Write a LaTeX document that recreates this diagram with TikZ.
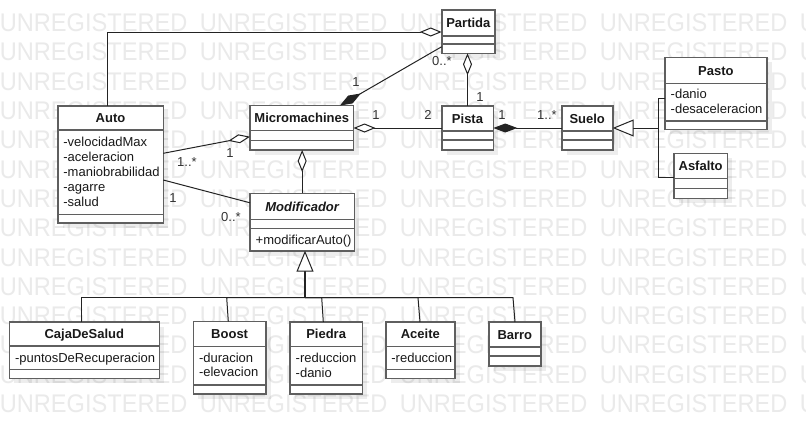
\documentclass[tikz,border=0pt]{standalone}
\usepackage{fontspec}
\setmainfont{Liberation Sans}
\usepackage{graphicx}
\usetikzlibrary{arrows.meta,calc,shadows}
\definecolor{boxc}{RGB}{95,95,95}
\definecolor{linec}{RGB}{35,35,35}
\definecolor{wmc}{RGB}{234,234,234}
\definecolor{txtc}{RGB}{25,25,25}
\tikzset{
 cbox/.style={draw=boxc, line width=1.6pt, fill=white, rectangle, inner sep=0pt, outer sep=0pt, anchor=north west,
   drop shadow={shadow xshift=5pt, shadow yshift=-5pt, fill=black, opacity=0.07}},
 cline/.style={draw=boxc, line width=1.6pt},
 ctitle/.style={anchor=base, inner sep=0pt, font=\fontsize{13}{15}\selectfont\bfseries, text=txtc},
 cattr/.style={anchor=base west, inner sep=0pt, font=\fontsize{13}{15}\selectfont, text=txtc},
 mult/.style={inner sep=0pt, font=\fontsize{13}{15}\selectfont, text=black!80},
 conn/.style={draw=linec, line width=1pt},
 aggr/.style={conn, -{Diamond[fill=white, length=22pt, width=9pt]}},
 comp/.style={conn, -{Diamond[fill=linec, length=24pt, width=9pt]}},
 genz/.style={conn, -{Triangle[fill=white, length=21pt, width=17pt]}},
 wm/.style={anchor=base west, inner sep=0pt, text=wmc, font=\fontsize{25.5}{25.5}\selectfont},
}
% name, x, y, w, h, title, title-line offset, second-line offset
\newcommand{\ucls}[8]{%
  \node[cbox, minimum width=#4pt, minimum height=#5pt] (#1) at (#2,#3) {};
  \draw[cline] ($(#1.north west)+(0,#7)$) -- ($(#1.north east)+(0,#7)$);
  \draw[cline] ($(#1.north west)+(0,#8)$) -- ($(#1.north east)+(0,#8)$);
  \node[ctitle] (#1-t) at ($(#1.north)+(0,#7/2+4.7)$) {#6};
}
% name, box, baseline offset, text
\newcommand{\uattr}[4]{%
  \node[cattr] (#1) at ($(#2.north west)+(5.5,#3)$) {#4};
}
\begin{document}
\begin{tikzpicture}[x=1pt,y=-1pt]
\useasboundingbox (0,0) rectangle (806,434);
\fill[white] (0,0) rectangle (806,434);
% watermark
\begin{scope}
\clip (0,0) rectangle (806,434);
\foreach \r in {0,...,13}{
  \foreach \c in {0,...,4}{
    \node[wm] (wm-\r-\c) at ({200*\c-0.3},{31.6+29.3*\r}) {\scalebox{0.925}[1]{UNREGISTERED}};
  }
}
\end{scope}

% classes
\ucls{partida}{441.7}{10}{53.3}{43.3}{Partida}{26}{34}
\ucls{pista}{441.7}{106}{51.6}{44}{Pista}{25}{34}
\ucls{suelo}{561.7}{106}{51}{44}{Suelo}{25}{34}
\ucls{pasto}{665}{57.3}{101.7}{72}{Pasto}{26}{63.4}
\ucls{asfalto}{674}{153.3}{53.3}{45}{Asfalto}{25}{35}
\ucls{micro}{250}{105.5}{103.5}{44.5}{Micromachines}{25}{35}
\ucls{auto}{57.7}{106}{105.6}{116.7}{Auto}{24}{108.3}
\ucls{modif}{250}{193.3}{104.3}{57.4}{\itshape Modificador}{26}{35}
\ucls{caja}{9.3}{321.7}{150}{56.6}{CajaDeSalud}{24.3}{47.6}
\ucls{boost}{193.3}{321.5}{72.7}{72.5}{Boost}{25}{63.5}
\ucls{piedra}{290}{322}{72.3}{72}{Piedra}{24.5}{63}
\ucls{aceite}{385.7}{322}{69.3}{56.3}{Aceite}{24.3}{47.3}
\ucls{barro}{489}{322}{51.7}{44}{Barro}{25}{34}

% attributes / operations
\uattr{pasto-a1}{pasto}{41.5}{-danio}
\uattr{pasto-a2}{pasto}{56.5}{-desaceleracion}
\uattr{auto-a1}{auto}{40}{-velocidadMax}
\uattr{auto-a2}{auto}{55}{-aceleracion}
\uattr{auto-a3}{auto}{70}{-maniobrabilidad}
\uattr{auto-a4}{auto}{85}{-agarre}
\uattr{auto-a5}{auto}{100}{-salud}
\uattr{modif-o1}{modif}{51}{+modificarAuto()}
\uattr{caja-a1}{caja}{40.5}{-puntosDeRecuperacion}
\uattr{boost-a1}{boost}{40.5}{-duracion}
\uattr{boost-a2}{boost}{55}{-elevacion}
\uattr{piedra-a1}{piedra}{40.5}{-reduccion}
\uattr{piedra-a2}{piedra}{55}{-danio}
\uattr{aceite-a1}{aceite}{40.5}{-reduccion}

% associations
\draw[aggr] ($(auto.north west)+(49.3,0)$) |- ($(partida.north west)+(0,22)$);
\draw[comp] ($(partida.north west)+(0,36.7)$) -- ($(micro.north west)+(90,0)$);
\draw[aggr] (pista.north) -- (pista.north |- partida.south);
\draw[aggr] (pista.west) -- (pista.west -| micro.east);
\draw[comp] (suelo.west) -- (pista.east);
\draw[aggr] ($(auto.north east)+(0,47.3)$) -- ($(micro.north west)+(0,31.2)$);
\draw[conn] ($(auto.north east)+(0,74)$) -- ($(modif.north west)+(0,9.5)$);
\draw[aggr] (modif.north) -- (modif.north |- micro.south);

% generalization Suelo
\coordinate (gs) at ($(suelo.east)+(45.6,0)$);
\draw[genz] ($(pasto.north west)+(0,41)$) -| (gs) -- (suelo.east);
\draw[conn] ($(asfalto.north west)+(0,24)$) -| (gs);

% generalization Modificador
\coordinate (gm) at ($(modif.south)+(2.85,47)$);
\draw[conn, line width=1.6pt, -{Triangle[fill=white, length=21pt, width=17pt, line width=1pt]}] (gm) -- (gm |- modif.south);
\draw[conn] ($(caja.north west)+(72.4,0)$) |- (gm);
\draw[conn] ($(boost.north west)+(35,0)$) -- ($(gm)+(-78.3,0)$) -- (gm);
\draw[conn] ($(piedra.north west)+(33.3,0)$) -- ($(gm)+(16.7,0)$) -- (gm);
\draw[conn] ($(aceite.north west)+(34.3,0)$) -- ($(gm)+(113,0)$) -- (gm);
\draw[conn] ($(barro.north west)+(26,0)$) -- ($(gm)+(208,0)$) -- (gm);
\draw[conn, line width=1.4pt] ($(gm)+(-78.3,0)$) -- ($(gm)+(113,0)$);

% multiplicities
\node[mult] (m1) at (356,82) {1};
\node[mult] (m2) at (442,61) {0..*};
\node[mult] (m3) at (480,97) {1};
\node[mult] (m4) at (376,115) {1};
\node[mult] (m5) at (428,115) {2};
\node[mult] (m6) at (502,115) {1};
\node[mult] (m7) at (547,115) {1..*};
\node[mult] (m8) at (187,162) {1..*};
\node[mult] (m9) at (230,153) {1};
\node[mult] (m10) at (173,198) {1};
\node[mult] (m11) at (231,217) {0..*};
\end{tikzpicture}
\end{document}
